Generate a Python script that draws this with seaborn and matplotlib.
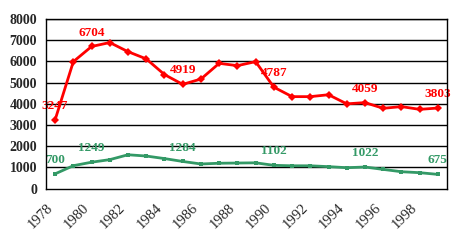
import matplotlib
matplotlib.use("Agg")
import matplotlib.pyplot as plt
import seaborn as sns
import pandas as pd
import numpy as np

years = list(range(1978, 2000))
red_values = [3247, 5990, 6704, 6890, 6460, 6120, 5380, 4919, 5170, 5910, 5800,
              5990, 4787, 4340, 4340, 4430, 4000, 4059, 3790, 3870, 3740, 3803]
green_values = [700, 1085, 1249, 1370, 1600, 1540, 1420, 1284, 1165, 1200, 1210,
                1220, 1102, 1080, 1080, 1040, 990, 1022, 910, 800, 755, 675]
red_label_years = [1978, 1980, 1985, 1990, 1995, 1999]
green_label_years = [1978, 1980, 1985, 1990, 1995, 1999]
y_ticks = [0, 1000, 2000, 3000, 4000, 5000, 6000, 7000, 8000]
x_label_years = list(range(1978, 1999, 2))

RED = "#FF0000"
GREEN = "#339966"

sns.set_style("white")
plt.rcParams['font.family'] = ['Liberation Serif', 'DejaVu Serif']

df = pd.DataFrame({
    "year": years * 2,
    "value": red_values + green_values,
    "series": ["red"] * len(years) + ["green"] * len(years),
})

fig = plt.figure(figsize=(4.54, 2.40), dpi=100)
ax = fig.add_axes([46/454, 1 - 188.7/240, (447-46)/454, (188.7-19)/240])

sns.lineplot(data=df, x="year", y="value", hue="series", style="series",
             palette={"red": RED, "green": GREEN},
             markers={"red": "D", "green": "s"}, dashes=False,
             markersize=4.5, linewidth=2, markeredgewidth=0,
             legend=False, ax=ax, zorder=3)
for line in ax.lines:
    if matplotlib.colors.to_hex(line.get_color()).lower() == GREEN.lower():
        line.set_markersize(3.5)

ax.set_xlim(1977.5, 1999.5)
ax.set_ylim(0, 8000)
ax.set_yticks(y_ticks)
ax.set_yticklabels([str(v) for v in y_ticks], fontsize=10, fontweight='bold')
for v in y_ticks[1:]:
    ax.axhline(v, color='black', linewidth=1, zorder=0)

ax.set_xticks(np.arange(1977.5, 1999.6, 1.0))
ax.set_xticklabels([])
ax.set_xticks(x_label_years, minor=True)
ax.set_xticklabels([str(y) for y in x_label_years], minor=True, rotation=45,
                   ha='right', va='top', fontsize=10.5)
ax.tick_params(axis='x', which='major', direction='out', length=4, width=1, color='black')
ax.tick_params(axis='x', which='minor', length=0, pad=9)
ax.tick_params(axis='y', direction='out', length=3.5, width=1, color='black', pad=3)
ax.set_xlabel("")
ax.set_ylabel("")

for s in ax.spines.values():
    s.set_visible(True)
    s.set_color('black')
    s.set_linewidth(1)

for yr in red_label_years:
    v = red_values[years.index(yr)]
    ax.annotate(str(v), (yr, v), xytext=(0, 10), textcoords='offset points',
                ha='center', va='center', color=RED, fontsize=9.5, fontweight='bold',
                zorder=2)
for yr in green_label_years:
    v = green_values[years.index(yr)]
    ax.annotate(str(v), (yr, v), xytext=(0, 10), textcoords='offset points',
                ha='center', va='center', color=GREEN, fontsize=9.5, fontweight='bold',
                zorder=2)

fig.savefig("out.png", dpi=100, facecolor='white')
